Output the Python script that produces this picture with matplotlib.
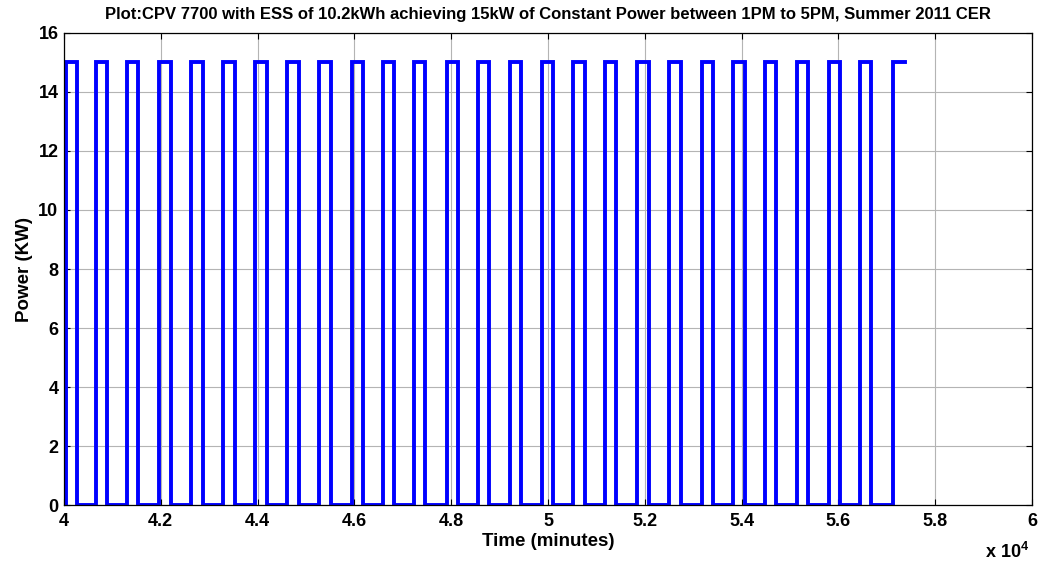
import numpy as np
import matplotlib
matplotlib.use('Agg')
import matplotlib.pyplot as plt

# pulse rise times (minutes); each pulse holds 15 kW
rise_times = [40035, 40661, 41302, 41969, 42630, 43291, 43952, 44614, 45275,
              45944, 46585, 47231, 47907, 48547, 49215, 49870, 50523, 51178,
              51845, 52506, 53176, 53829, 54484, 55138, 55806, 56446, 57135]
pulse_width = 235
power_on = 15
power_off = 0
data_start = 39900
data_end = 57370

# build step trace
t = [data_start]
p = [power_off]
for r in rise_times:
    t += [r, r]
    p += [power_off, power_on]
    f = min(r + pulse_width, data_end)
    t += [f]
    p += [power_on]
    if f < data_end:
        t += [f]
        p += [power_off]

plt.rcParams['font.family'] = ['Liberation Sans', 'DejaVu Sans']
plt.rcParams['font.weight'] = 'bold'
plt.rcParams['mathtext.fontset'] = 'custom'
plt.rcParams['mathtext.bf'] = 'Liberation Sans:bold'

fig = plt.figure(figsize=(10.42, 5.63), dpi=100)
ax = fig.add_axes([0.0614, 0.103, 0.9290, 0.8384])
ax.plot(t, p, color='#0000ff', linewidth=2.8, solid_joinstyle='miter')

ax.set_xlim(40000, 60000)
ax.set_ylim(0, 16)
xt = np.arange(40000, 60001, 2000)
ax.set_xticks(xt)
ax.set_xticklabels([f'{v / 1e4:g}' for v in xt])
ax.set_yticks(np.arange(0, 17, 2))
ax.grid(True, color='#b4b4b4', linewidth=0.8)
ax.tick_params(direction='in', top=True, right=True, labelsize=13, length=4, width=0.8)
ax.tick_params(axis='x', pad=6)
ax.tick_params(axis='y', pad=4)
for lab in ax.get_xticklabels() + ax.get_yticklabels():
    lab.set_fontweight('bold')
for s in ax.spines.values():
    s.set_linewidth(0.9)

ax.set_xlabel('Time (minutes)', fontsize=13.5, fontweight='bold', labelpad=2)
ax.set_ylabel('Power (KW)', fontsize=13.5, fontweight='bold', labelpad=4)
ax.set_title('Plot:CPV 7700 with ESS of 10.2kWh achieving 15kW of Constant Power between 1PM to 5PM, Summer 2011 CER',
             fontsize=12, fontweight='bold', pad=10)
fig.text(0.988, 0.02, r'x 10$^{\mathbf{4}}$', ha='right', va='center', fontsize=13, fontweight='bold')

fig.savefig('out.png', dpi=100)
